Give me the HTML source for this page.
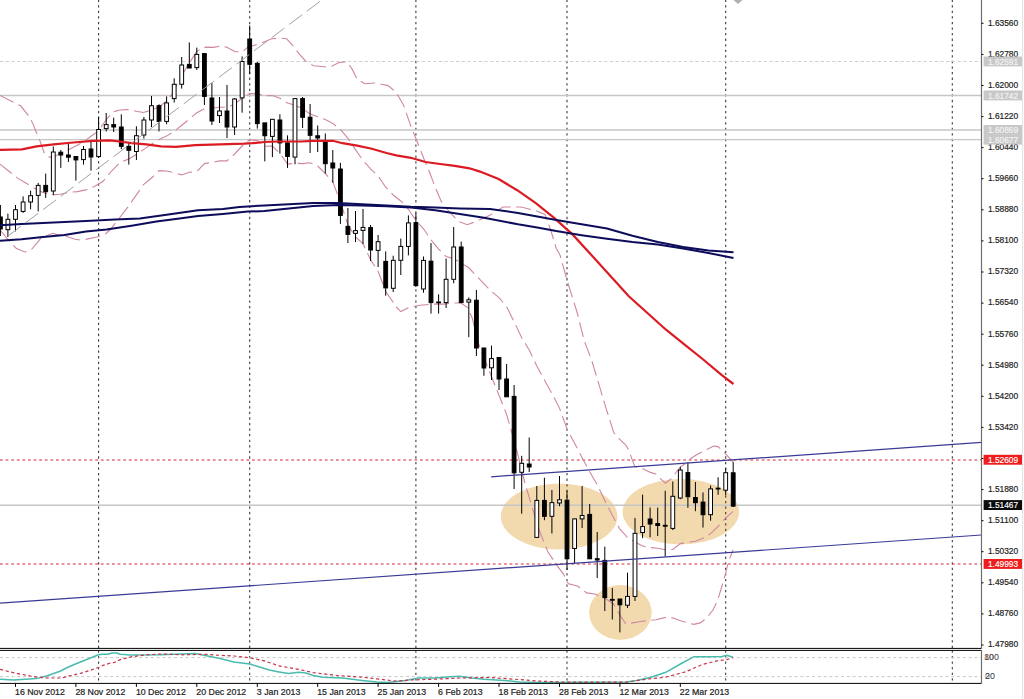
<!DOCTYPE html>
<html><head><meta charset="utf-8"><title>GBPUSD Daily</title>
<style>html,body{margin:0;padding:0;background:#fff;overflow:hidden}svg{display:block}</style>
</head><body>
<svg width="1024" height="699" viewBox="0 0 1024 699"><defs><clipPath id="cm"><rect x="0" y="0" width="981.5" height="648.4"/></clipPath>
<clipPath id="ci"><rect x="0" y="650.4" width="981.5" height="33"/></clipPath></defs>
<g clip-path="url(#cm)">
<ellipse cx="559.1" cy="516.4" rx="58.3" ry="33" fill="#f3daae"/>
<ellipse cx="680.9" cy="511.8" rx="58.3" ry="32.8" fill="#f3daae"/>
<ellipse cx="620.4" cy="612.5" rx="31.3" ry="27.4" fill="#f3daae"/>
<line x1="98.6" y1="0" x2="98.6" y2="648.4" stroke="#383838" stroke-width="1.1" stroke-dasharray="2.3 3.27" stroke-dashoffset="0.4"/>
<line x1="249.7" y1="0" x2="249.7" y2="648.4" stroke="#383838" stroke-width="1.1" stroke-dasharray="2.3 3.27" stroke-dashoffset="0.4"/>
<line x1="415.9" y1="0" x2="415.9" y2="648.4" stroke="#383838" stroke-width="1.1" stroke-dasharray="2.3 3.27" stroke-dashoffset="0.4"/>
<line x1="567" y1="0" x2="567" y2="648.4" stroke="#383838" stroke-width="1.1" stroke-dasharray="2.3 3.27" stroke-dashoffset="0.4"/>
<line x1="725.7" y1="0" x2="725.7" y2="648.4" stroke="#383838" stroke-width="1.1" stroke-dasharray="2.3 3.27" stroke-dashoffset="0.4"/>
<line x1="952.3" y1="0" x2="952.3" y2="648.4" stroke="#383838" stroke-width="1.1" stroke-dasharray="2.3 3.27" stroke-dashoffset="0.4"/>
<line x1="0" y1="61.5" x2="981.5" y2="61.5" stroke="#cfcfcf" stroke-width="1.2" stroke-dasharray="3.2 2.5"/>
<line x1="0" y1="95.5" x2="981.5" y2="95.5" stroke="#c6c6c6" stroke-width="1.4"/>
<line x1="0" y1="130" x2="981.5" y2="130" stroke="#c6c6c6" stroke-width="1.4"/>
<line x1="0" y1="139.6" x2="981.5" y2="139.6" stroke="#c6c6c6" stroke-width="1.4"/>
<line x1="0" y1="505.2" x2="981.5" y2="505.2" stroke="#c6c6c6" stroke-width="1.4"/>
<line x1="0" y1="460" x2="981.5" y2="460" stroke="#d8283c" stroke-width="1.1" stroke-dasharray="2.8 2.8"/>
<line x1="0" y1="564" x2="981.5" y2="564" stroke="#d8283c" stroke-width="1.1" stroke-dasharray="2.8 2.8"/>
<polyline points="0,95.5 13.7,102.3 20.6,105.8 27.5,114.3 32.6,122.9 36,131.5 40.3,141.8 44.6,153.8 49.8,157.3 56.7,155.5 63.5,152.1 70.4,148.7 77.3,145.2 85.8,140.1 92.7,135 97.9,131.5 106.4,119.5 113.3,111.8 120,110 128,109.6 136,111.2 143.5,112.5 151.5,110 159,107 166.6,101 171.8,94.6 179.5,79.2 190,61.9 196.4,52.2 200.7,48.5 206.1,47.1 213.6,47.4 220.1,46 226.5,47.1 235.1,51.7 242.6,51.7 248,46.9 254.4,45.2 258.7,44.2 265.2,41.5 271.6,38.8 280.2,38 286.7,38.8 292,44.7 299.6,54.4 305.7,61.2 313.5,65.8 323.7,66.8 331.5,66.3 339.2,62.5 346.9,61.7 352,68.9 357.2,79.2 364.9,83.8 375.2,83 388,85.6 395.8,92 403.5,104.9 410.3,124.6 417.2,141.8 424,159 428.7,170 435.2,187.2 441.6,202.2 450.2,212.9 458.8,221.5 467.3,224.7 475.9,221.5 489.3,215.6 503,207 521,207 535.8,210.7 545,214.4 551,231 556.2,248.2 560,255 567.4,281.4 576.7,311 584.4,341.2 591.6,360 596.3,375.7 601,391.4 605.7,407.2 609.7,419.7 613.6,432.3 619.1,438.6 626.2,445.7 629.3,451.2 632.5,460.6 634.8,466.5 639.7,468.1 644,469.2 650.4,472.4 655.8,474 660.1,478.3 665.4,483.2 671.9,478.3 677.3,470.8 681.6,466 685.9,463.3 690.2,459 696.6,454.7 707.3,449.3 713.8,446.1 718.1,446.6 723.4,451.5 728.8,457.4 733.2,462" fill="none" stroke="#cf86a3" stroke-width="1.1" stroke-dasharray="15 5.5"/>
<polyline points="0,164.1 8.6,171 17.2,177.9 25.8,183 34.3,188.2 42.9,192.4 51.5,195 60.1,194.2 68.7,192.4 77.3,191.6 85.8,189.9 94.4,186.4 103,181.3 111.6,171 120,162.4 128.8,158.9 136.4,154.5 143.9,149.4 151.5,144.1 159,139.4 166.6,136.1 174.2,131.4 181.7,125.3 189.3,119.1 196.8,112.8 204.4,108.8 211.9,108.2 219.5,107.3 227,107.3 234.6,104.1 242.1,98.2 249.7,93.5 257.3,93.7 264.8,95.7 272.4,95.6 279.9,98.2 287.5,103 295,105.3 302.6,108.6 310.1,114 317.7,116.7 325.3,119.6 332.8,123.4 340.4,129.3 347.9,138.3 355.5,149.6 363,160.4 370.6,168.9 378.1,175.9 385.7,187.2 393.2,195 400.8,201 408.4,209.3 415.9,220.5 423.5,228.8 431,239.8 438.6,249.1 446.1,256.5 453.7,258.6 461.2,263.2 468.8,267.8 476.4,275.8 483.9,283.7 491.5,291.5 499,297.6 506.6,306.7 514.1,321.7 521.7,337.8 529.2,349.9 536.8,365.9 544.4,380.1 551.9,393.4 559.5,408.1 567,428.9 574.6,443.3 582.1,457.7 589.7,471.8 597.2,484.6 604.8,500.5 612.3,515.3 619.9,529.1 627.5,537.4 635,542 642.6,546 650.1,547.6 657.7,548.2 665.2,549.8 672.8,549.5 680.3,543.6 687.9,542.1 695.4,541.3 703,538.3 710.6,533.6 718.1,526.4 725.7,517.9 733.2,511.3" fill="none" stroke="#cf86a3" stroke-width="1.1" stroke-dasharray="15 5.5"/>
<polyline points="0,230 6.4,237.6 16.1,248.3 24.7,252 31.1,249.9 37.6,242.4 40.8,238.1 52.6,233.3 58,234.9 66.6,236.5 75.2,239.2 81.6,240.2 96.7,237 104.2,234.9 110,230 116.6,221.6 128.2,206.6 139.8,190 143.5,184.7 151.5,178 159,170.6 166.6,171 174.2,172.6 181.7,174.9 189.3,172.3 196.8,171.7 204.4,163.6 211.9,162.4 219.5,160.9 227,160.9 234.6,154 242.1,146 249.7,139.7 257.3,140.5 264.8,146.3 272.4,146 279.9,153.4 287.5,164.1 295,163.3 302.6,163.6 310.1,162.8 317.7,166 325.3,173.6 332.8,181.8 340.4,202.2 347.9,224.7 355.5,237 363,243.7 370.6,259.8 378.1,271.3 385.7,291.5 393.2,302.2 394.4,305.2 400.8,311.6 409.4,307.3 420.1,305.2 433,304.1 443.7,304.1 454.5,303 460.9,303 467.3,307.3 472.3,318.3 479.2,345.8 488.3,368.6 497.5,391.5 506.6,414.4 515.8,446.5 524.9,483 531.8,506 538.6,528.8 547.8,551.7 557,565.4 563.8,574.6 568.4,583.8 577.5,586 586.7,592.9 594.7,594 604.2,597.7 613.6,604 619.9,615 626.2,624.4 632.5,622.9 642,621.3 649.8,620.5 656.1,619.7 665.6,617.4 673.4,618.1 679.7,620.5 687.6,622.9 693.9,624.4 700.2,622.9 706.5,618.1 712.8,610.3 717.5,600.8 722.2,585.1 725.4,574.1 728.5,561.5 733.2,549.7" fill="none" stroke="#cf86a3" stroke-width="1.1" stroke-dasharray="15 5.5"/>
<g stroke="#000" stroke-width="1"><line x1="0.4" y1="205" x2="0.4" y2="236"/><line x1="7.9" y1="213.6" x2="7.9" y2="237"/><line x1="15.5" y1="205" x2="15.5" y2="231.4"/><line x1="23.1" y1="196.4" x2="23.1" y2="212.9"/><line x1="30.6" y1="190.7" x2="30.6" y2="209.3"/><line x1="38.2" y1="182.9" x2="38.2" y2="211.4"/><line x1="45.7" y1="173.6" x2="45.7" y2="197.9"/><line x1="53.3" y1="146.5" x2="53.3" y2="195"/><line x1="60.8" y1="150" x2="60.8" y2="167.9"/><line x1="68.4" y1="144" x2="68.4" y2="162"/><line x1="75.9" y1="156.5" x2="75.9" y2="180.6"/><line x1="83.5" y1="146" x2="83.5" y2="164.6"/><line x1="91" y1="142" x2="91" y2="170.6"/><line x1="98.6" y1="117" x2="98.6" y2="158"/><line x1="106.2" y1="113" x2="106.2" y2="131.5"/><line x1="113.7" y1="117.7" x2="113.7" y2="132"/><line x1="121.3" y1="114.3" x2="121.3" y2="149.2"/><line x1="128.8" y1="142.3" x2="128.8" y2="164.6"/><line x1="136.4" y1="126.3" x2="136.4" y2="160"/><line x1="143.9" y1="117" x2="143.9" y2="138.6"/><line x1="151.5" y1="96" x2="151.5" y2="127"/><line x1="159" y1="104.3" x2="159" y2="131.4"/><line x1="166.6" y1="96.4" x2="166.6" y2="124.3"/><line x1="174.2" y1="78.3" x2="174.2" y2="102.6"/><line x1="181.7" y1="57" x2="181.7" y2="88.6"/><line x1="189.3" y1="42.4" x2="189.3" y2="68"/><line x1="196.8" y1="47.6" x2="196.8" y2="70"/><line x1="204.4" y1="53" x2="204.4" y2="105"/><line x1="211.9" y1="83" x2="211.9" y2="125"/><line x1="219.5" y1="97" x2="219.5" y2="123"/><line x1="227" y1="85" x2="227" y2="138"/><line x1="234.6" y1="98" x2="234.6" y2="135"/><line x1="242.1" y1="56.4" x2="242.1" y2="112.7"/><line x1="249.7" y1="25.5" x2="249.7" y2="74"/><line x1="257.3" y1="62" x2="257.3" y2="128.6"/><line x1="264.8" y1="122.9" x2="264.8" y2="161.4"/><line x1="272.4" y1="119.3" x2="272.4" y2="157.1"/><line x1="279.9" y1="114.3" x2="279.9" y2="153.6"/><line x1="287.5" y1="135.4" x2="287.5" y2="167.9"/><line x1="295" y1="98.6" x2="295" y2="164.3"/><line x1="302.6" y1="97" x2="302.6" y2="128"/><line x1="310.1" y1="104" x2="310.1" y2="153"/><line x1="317.7" y1="125.5" x2="317.7" y2="152"/><line x1="325.3" y1="133.5" x2="325.3" y2="173.5"/><line x1="332.8" y1="150" x2="332.8" y2="182.7"/><line x1="340.4" y1="162.8" x2="340.4" y2="223.9"/><line x1="347.9" y1="208" x2="347.9" y2="243"/><line x1="355.5" y1="211" x2="355.5" y2="242"/><line x1="363" y1="209" x2="363" y2="244"/><line x1="370.6" y1="225" x2="370.6" y2="261"/><line x1="378.1" y1="235" x2="378.1" y2="267"/><line x1="385.7" y1="251.4" x2="385.7" y2="295.7"/><line x1="393.2" y1="255.7" x2="393.2" y2="292"/><line x1="400.8" y1="238.6" x2="400.8" y2="275"/><line x1="408.4" y1="215.4" x2="408.4" y2="255.4"/><line x1="415.9" y1="212.9" x2="415.9" y2="287"/><line x1="423.5" y1="256.5" x2="423.5" y2="292.7"/><line x1="431" y1="243.1" x2="431" y2="313.6"/><line x1="438.6" y1="294.3" x2="438.6" y2="313.6"/><line x1="446.1" y1="258.6" x2="446.1" y2="308"/><line x1="453.7" y1="227" x2="453.7" y2="283.3"/><line x1="461.2" y1="241.6" x2="461.2" y2="303"/><line x1="468.8" y1="297.4" x2="468.8" y2="337.2"/><line x1="476.4" y1="290" x2="476.4" y2="356"/><line x1="483.9" y1="348" x2="483.9" y2="375.8"/><line x1="491.5" y1="345.6" x2="491.5" y2="380"/><line x1="499" y1="357.5" x2="499" y2="390"/><line x1="506.6" y1="364" x2="506.6" y2="397"/><line x1="514.1" y1="385" x2="514.1" y2="489"/><line x1="521.7" y1="455.8" x2="521.7" y2="513.7"/><line x1="529.2" y1="437.5" x2="529.2" y2="472"/><line x1="536.8" y1="486" x2="536.8" y2="537.5"/><line x1="544.4" y1="477.7" x2="544.4" y2="520.2"/><line x1="551.9" y1="490" x2="551.9" y2="533.5"/><line x1="559.5" y1="476" x2="559.5" y2="506.2"/><line x1="567" y1="490.7" x2="567" y2="570"/><line x1="574.6" y1="518.6" x2="574.6" y2="563.6"/><line x1="582.1" y1="486" x2="582.1" y2="528"/><line x1="589.7" y1="504" x2="589.7" y2="558.8"/><line x1="597.2" y1="532" x2="597.2" y2="578"/><line x1="604.8" y1="546.6" x2="604.8" y2="611"/><line x1="612.3" y1="588" x2="612.3" y2="619.5"/><line x1="619.9" y1="599" x2="619.9" y2="632.4"/><line x1="627.5" y1="572.7" x2="627.5" y2="608"/><line x1="635" y1="517.9" x2="635" y2="601"/><line x1="642.6" y1="494.6" x2="642.6" y2="538.2"/><line x1="650.1" y1="507.5" x2="650.1" y2="537.2"/><line x1="657.7" y1="507.6" x2="657.7" y2="536"/><line x1="665.2" y1="490.8" x2="665.2" y2="556.6"/><line x1="672.8" y1="481.5" x2="672.8" y2="530.1"/><line x1="680.3" y1="466.8" x2="680.3" y2="499.2"/><line x1="687.9" y1="462.4" x2="687.9" y2="507.8"/><line x1="695.4" y1="482" x2="695.4" y2="511.2"/><line x1="703" y1="492.4" x2="703" y2="527.6"/><line x1="710.6" y1="485.5" x2="710.6" y2="520.7"/><line x1="718.1" y1="477.3" x2="718.1" y2="494.8"/><line x1="725.7" y1="468.2" x2="725.7" y2="495"/><line x1="733.2" y1="462.1" x2="733.2" y2="507"/></g>
<g stroke="#000" stroke-width="1"><rect x="-1.5" y="217" width="3.8" height="12" fill="#000"/><rect x="6" y="219.3" width="3.8" height="10.4" fill="#fff"/><rect x="13.6" y="209.7" width="3.8" height="9.6" fill="#fff"/><rect x="21.2" y="202" width="3.8" height="9.4" fill="#fff"/><rect x="28.7" y="195.7" width="3.8" height="6.3" fill="#fff"/><rect x="36.3" y="185.4" width="3.8" height="10" fill="#fff"/><rect x="43.8" y="185.4" width="3.8" height="6.3" fill="#000"/><rect x="51.4" y="152" width="3.8" height="39" fill="#fff"/><rect x="58.9" y="152.2" width="3.8" height="2.8" fill="#000"/><rect x="66.5" y="155" width="3.8" height="2.2" fill="#000"/><rect x="74" y="156.5" width="3.8" height="3.4" fill="#000"/><rect x="81.6" y="149.5" width="3.8" height="10.1" fill="#fff"/><rect x="89.1" y="149" width="3.8" height="8" fill="#000"/><rect x="96.7" y="129.5" width="3.8" height="27.1" fill="#fff"/><rect x="104.3" y="124.6" width="3.8" height="4" fill="#fff"/><rect x="111.8" y="124.6" width="3.8" height="2.4" fill="#000"/><rect x="119.4" y="127" width="3.8" height="19.3" fill="#000"/><rect x="126.9" y="146.3" width="3.8" height="4" fill="#000"/><rect x="134.5" y="135.7" width="3.8" height="15.8" fill="#fff"/><rect x="142" y="120" width="3.8" height="15" fill="#fff"/><rect x="149.6" y="105.7" width="3.8" height="14.3" fill="#fff"/><rect x="157.1" y="105.7" width="3.8" height="15.7" fill="#000"/><rect x="164.7" y="102.9" width="3.8" height="18.5" fill="#fff"/><rect x="172.3" y="84.3" width="3.8" height="14.3" fill="#fff"/><rect x="179.8" y="65" width="3.8" height="19.3" fill="#fff"/><rect x="187.4" y="64.4" width="3.8" height="3.6" fill="#000"/><rect x="194.9" y="54.4" width="3.8" height="13.2" fill="#fff"/><rect x="202.5" y="53.6" width="3.8" height="42.8" fill="#000"/><rect x="210" y="98" width="3.8" height="23" fill="#000"/><rect x="217.6" y="111" width="3.8" height="4.6" fill="#fff"/><rect x="225.1" y="111" width="3.8" height="16" fill="#000"/><rect x="232.7" y="99" width="3.8" height="28" fill="#fff"/><rect x="240.2" y="61.5" width="3.8" height="36.4" fill="#fff"/><rect x="247.8" y="39" width="3.8" height="25.3" fill="#000"/><rect x="255.4" y="63.3" width="3.8" height="60.3" fill="#000"/><rect x="262.9" y="122.9" width="3.8" height="12.8" fill="#000"/><rect x="270.5" y="119.3" width="3.8" height="17.1" fill="#fff"/><rect x="278" y="120" width="3.8" height="22.9" fill="#000"/><rect x="285.6" y="142.9" width="3.8" height="13.5" fill="#000"/><rect x="293.1" y="98.6" width="3.8" height="58.5" fill="#fff"/><rect x="300.7" y="98.6" width="3.8" height="18.7" fill="#000"/><rect x="308.2" y="117.2" width="3.8" height="18.1" fill="#000"/><rect x="315.8" y="135.8" width="3.8" height="2.2" fill="#000"/><rect x="323.4" y="142" width="3.8" height="21.7" fill="#000"/><rect x="330.9" y="163" width="3.8" height="5" fill="#000"/><rect x="338.5" y="169" width="3.8" height="46.4" fill="#000"/><rect x="346" y="226.4" width="3.8" height="8" fill="#000"/><rect x="353.6" y="230.6" width="3.8" height="2.8" fill="#fff"/><rect x="361.1" y="227.4" width="3.8" height="3" fill="#fff"/><rect x="368.7" y="227.6" width="3.8" height="22.4" fill="#000"/><rect x="376.2" y="241.7" width="3.8" height="8.7" fill="#fff"/><rect x="383.8" y="261.4" width="3.8" height="26.5" fill="#000"/><rect x="391.4" y="260.3" width="3.8" height="28" fill="#fff"/><rect x="398.9" y="246.4" width="3.8" height="13.9" fill="#fff"/><rect x="406.5" y="222.9" width="3.8" height="23.5" fill="#fff"/><rect x="414" y="222.6" width="3.8" height="63" fill="#000"/><rect x="421.6" y="260.4" width="3.8" height="28.6" fill="#fff"/><rect x="429.1" y="261.2" width="3.8" height="41.4" fill="#000"/><rect x="436.7" y="302" width="3.8" height="0.8" fill="#000"/><rect x="444.2" y="279.3" width="3.8" height="23.3" fill="#fff"/><rect x="451.8" y="247" width="3.8" height="32.3" fill="#fff"/><rect x="459.3" y="247" width="3.8" height="55.6" fill="#000"/><rect x="466.9" y="299.8" width="3.8" height="2.3" fill="#fff"/><rect x="474.5" y="300.2" width="3.8" height="47.8" fill="#000"/><rect x="482" y="348" width="3.8" height="20" fill="#000"/><rect x="489.6" y="358.6" width="3.8" height="9.2" fill="#fff"/><rect x="497.1" y="357.5" width="3.8" height="21.5" fill="#000"/><rect x="504.7" y="379" width="3.8" height="17.8" fill="#000"/><rect x="512.2" y="396.4" width="3.8" height="76.4" fill="#000"/><rect x="519.8" y="463.3" width="3.8" height="9" fill="#fff"/><rect x="527.3" y="464" width="3.8" height="3" fill="#000"/><rect x="534.9" y="500.4" width="3.8" height="37" fill="#fff"/><rect x="542.5" y="500.4" width="3.8" height="15.9" fill="#000"/><rect x="550" y="502.6" width="3.8" height="13.7" fill="#fff"/><rect x="557.6" y="499.8" width="3.8" height="3.2" fill="#fff"/><rect x="565.1" y="500.2" width="3.8" height="58.6" fill="#000"/><rect x="572.7" y="518.9" width="3.8" height="29.6" fill="#fff"/><rect x="580.2" y="515.5" width="3.8" height="3.4" fill="#fff"/><rect x="587.8" y="514.4" width="3.8" height="44.4" fill="#000"/><rect x="595.3" y="558.7" width="3.8" height="1.3" fill="#000"/><rect x="602.9" y="560.4" width="3.8" height="37.2" fill="#000"/><rect x="610.4" y="599.4" width="3.8" height="0.8" fill="#000"/><rect x="618" y="599" width="3.8" height="5.8" fill="#000"/><rect x="625.6" y="596.4" width="3.8" height="8.8" fill="#fff"/><rect x="633.1" y="533.3" width="3.8" height="63.1" fill="#fff"/><rect x="640.7" y="526.6" width="3.8" height="5.9" fill="#fff"/><rect x="648.2" y="519" width="3.8" height="5" fill="#000"/><rect x="655.8" y="523.6" width="3.8" height="1.9" fill="#000"/><rect x="663.3" y="525.3" width="3.8" height="0.9" fill="#000"/><rect x="670.9" y="496.3" width="3.8" height="32.1" fill="#fff"/><rect x="678.4" y="470" width="3.8" height="28" fill="#fff"/><rect x="686" y="472.6" width="3.8" height="24.1" fill="#000"/><rect x="693.5" y="497.5" width="3.8" height="5.2" fill="#000"/><rect x="701.1" y="502.1" width="3.8" height="12.6" fill="#000"/><rect x="708.7" y="488.9" width="3.8" height="25.8" fill="#fff"/><rect x="716.2" y="488.2" width="3.8" height="0.8" fill="#000"/><rect x="723.8" y="472.7" width="3.8" height="17.5" fill="#fff"/><rect x="731.3" y="472.8" width="3.8" height="33.3" fill="#000"/></g>
<polyline points="0,149.8 22,149.3 36.6,146.4 53.7,144.4 73.2,142.5 92.8,140.8 110,140.3 119.6,141.5 131.8,143.2 146.5,144.4 161,146.4 175.8,146.9 195.3,145.1 219.7,144.4 244,143.7 252.2,143.2 264.4,142 279,141.5 301,141.5 313.2,140.8 332.8,140.8 342.5,143.2 357.2,145.6 371.8,148.8 386.5,153 396.2,155.4 410.9,157.8 425.5,162 440.2,164 454.8,165.9 469.5,168.3 480,171.6 498.6,179 517.2,190.2 535.8,203.2 554.4,218.1 573,234.9 591.6,255.3 610.2,275.8 628.8,296.2 647.4,313 666,329.7 684.6,344.6 703.2,359.5 721.8,375.1 733.5,384" fill="none" stroke="#dc1a22" stroke-width="2.2"/>
<polyline points="0,225.2 21.5,224.1 43,223.1 64.4,222 86,220.9 110,219.8 114.9,219.6 139.8,218.6 164.8,214.9 198,210.3 222.9,209.1 239.5,207.1 264.4,205.4 288.8,204.2 313.2,203 337.7,203 362,204.2 386.5,205.4 410.9,206.7 435.3,207.4 459.7,208.4 490,209.1 518,212.9 540,217.1 556.2,220 581.6,224.3 607,228.6 632.4,235.7 657.8,242 683.1,247.1 708.5,250.4 733.5,252.2" fill="none" stroke="#0c0c5a" stroke-width="2"/>
<polyline points="0,240.8 21.5,239.2 43,237 64.4,234.9 86,231.6 106.6,229.5 131.5,225.7 156.4,221.6 181.4,218.2 198,216.1 222.9,214.1 247.8,211.6 264.4,211 288.8,208.4 313.2,206 337.7,205 362,205.4 386.5,206.2 410.9,207.4 435.3,210.3 459.7,214 484,217.7 518,224.3 540,228 556.2,231.1 581.6,235.2 607,238.8 632.4,242 657.8,244.6 683.1,248.4 708.5,253 733.5,258" fill="none" stroke="#0c0c5a" stroke-width="2"/>
<line x1="8" y1="236" x2="321.8" y2="0" stroke="#a0a0a0" stroke-width="1" stroke-dasharray="16 6"/>
<line x1="0" y1="603.1" x2="981.5" y2="535" stroke="#3a3a96" stroke-width="1.2"/>
<line x1="491.1" y1="476.8" x2="981.5" y2="442.4" stroke="#3a3a96" stroke-width="1.2"/>
</g>
<g clip-path="url(#ci)">
<line x1="98.6" y1="650.4" x2="98.6" y2="683.4" stroke="#2a2a2a" stroke-width="1" stroke-dasharray="2.3 3.27"/>
<line x1="249.7" y1="650.4" x2="249.7" y2="683.4" stroke="#2a2a2a" stroke-width="1" stroke-dasharray="2.3 3.27"/>
<line x1="415.9" y1="650.4" x2="415.9" y2="683.4" stroke="#2a2a2a" stroke-width="1" stroke-dasharray="2.3 3.27"/>
<line x1="567" y1="650.4" x2="567" y2="683.4" stroke="#2a2a2a" stroke-width="1" stroke-dasharray="2.3 3.27"/>
<line x1="725.7" y1="650.4" x2="725.7" y2="683.4" stroke="#2a2a2a" stroke-width="1" stroke-dasharray="2.3 3.27"/>
<line x1="952.3" y1="650.4" x2="952.3" y2="683.4" stroke="#2a2a2a" stroke-width="1" stroke-dasharray="2.3 3.27"/>
<line x1="0" y1="657.6" x2="981.5" y2="657.6" stroke="#c8c8c8" stroke-width="1" stroke-dasharray="3 2.8"/>
<line x1="0" y1="676.6" x2="981.5" y2="676.6" stroke="#c8c8c8" stroke-width="1" stroke-dasharray="3 2.8"/>
<polyline points="0,679.2 14,680 36.6,678.6 48,675.5 60,671.2 66.8,667.8 73.7,664.7 80.5,662 87.3,659.3 94.2,656.5 98.3,654.8 102.4,654.2 107.8,654.2 112,653.1 116.7,653.1 120.2,654.2 124.9,654.5 129,655 160,654.8 195,653.5 220,658.4 234,662 249.8,664 259.5,667 269.3,670 279,671.9 288.8,673.6 298.6,672.3 306,673 313,675.5 323,677.2 342.5,678 362,680.4 376.7,682.1 386.5,682.4 406,680.4 418,678 435,678 450,676.7 459.7,676.2 472,678 484,679.2 504.6,680.4 519.3,682.1 538.8,682.4 626.7,682.1 636.5,680.4 651,677.2 665.8,672.3 680.4,664 693.9,656.7 709.7,656.7 722,656.5 726.8,655.3 733,657.2" fill="none" stroke="#48bcae" stroke-width="1.5"/>
<polyline points="0,669.4 14.6,673 36.6,677.2 48.8,678 62,678 68.9,676 75,674.7 80.5,673.3 86,671.6 91.4,669.9 98.3,667.5 103,665.4 109.2,663.4 114.7,662.4 120.2,659.6 125.6,658.3 132,656.7 146.5,654.8 161,654 183,654.8 205,654.3 220,655.3 234,656 249.8,657.7 264.4,660.9 279,665.8 298.6,669.4 313,672.6 337.7,675.5 362,677.2 386.5,680 396,681.1 411,680 435,679.2 459.7,678 490,677.5 514.4,679.2 538.8,681.1 563.2,682.1 626.7,682.1 646.3,679.2 665.8,677.2 685.3,671.9 702.4,664.5 717,660.9 726.8,659.6 733,657.7" fill="none" stroke="#c8344a" stroke-width="1.2" stroke-dasharray="3.2 2.6"/>
</g>
<g stroke="#000" stroke-width="1" fill="none">
<line x1="0" y1="648.4" x2="981.5" y2="648.4"/>
<line x1="0" y1="650.4" x2="981.5" y2="650.4"/>
<line x1="0" y1="683.4" x2="981.5" y2="683.4"/>
</g>
<line x1="981.5" y1="0" x2="981.5" y2="648.4" stroke="#6e6e6e" stroke-width="1.2"/>
<line x1="981.5" y1="650.4" x2="981.5" y2="683.4" stroke="#6e6e6e" stroke-width="1.2"/>
<line x1="1022.6" y1="0" x2="1022.6" y2="699" stroke="#e4e4e4" stroke-width="1"/>
<g stroke="#000" stroke-width="1"><line x1="981.5" y1="23.3" x2="983.5" y2="23.3"/><line x1="981.5" y1="54.4" x2="983.5" y2="54.4"/><line x1="981.5" y1="85.5" x2="983.5" y2="85.5"/><line x1="981.5" y1="116.6" x2="983.5" y2="116.6"/><line x1="981.5" y1="147.6" x2="983.5" y2="147.6"/><line x1="981.5" y1="178.7" x2="983.5" y2="178.7"/><line x1="981.5" y1="209.8" x2="983.5" y2="209.8"/><line x1="981.5" y1="240.9" x2="983.5" y2="240.9"/><line x1="981.5" y1="272" x2="983.5" y2="272"/><line x1="981.5" y1="303.1" x2="983.5" y2="303.1"/><line x1="981.5" y1="334.2" x2="983.5" y2="334.2"/><line x1="981.5" y1="365.2" x2="983.5" y2="365.2"/><line x1="981.5" y1="396.3" x2="983.5" y2="396.3"/><line x1="981.5" y1="427.4" x2="983.5" y2="427.4"/><line x1="981.5" y1="458.5" x2="983.5" y2="458.5"/><line x1="981.5" y1="489.6" x2="983.5" y2="489.6"/><line x1="981.5" y1="520.7" x2="983.5" y2="520.7"/><line x1="981.5" y1="551.7" x2="983.5" y2="551.7"/><line x1="981.5" y1="582.8" x2="983.5" y2="582.8"/><line x1="981.5" y1="613.9" x2="983.5" y2="613.9"/><line x1="981.5" y1="645" x2="983.5" y2="645"/></g>
<g font-family="Liberation Sans, sans-serif" font-size="9.3" fill="#222" stroke="#222" stroke-width="0.2"><text x="987.9" y="25.6" textLength="30.3" lengthAdjust="spacingAndGlyphs">1.63560</text><text x="987.9" y="56.7" textLength="30.3" lengthAdjust="spacingAndGlyphs">1.62780</text><text x="987.9" y="87.8" textLength="30.3" lengthAdjust="spacingAndGlyphs">1.62000</text><text x="987.9" y="118.9" textLength="30.3" lengthAdjust="spacingAndGlyphs">1.61220</text><text x="987.9" y="149.9" textLength="30.3" lengthAdjust="spacingAndGlyphs">1.60440</text><text x="987.9" y="181" textLength="30.3" lengthAdjust="spacingAndGlyphs">1.59660</text><text x="987.9" y="212.1" textLength="30.3" lengthAdjust="spacingAndGlyphs">1.58880</text><text x="987.9" y="243.2" textLength="30.3" lengthAdjust="spacingAndGlyphs">1.58100</text><text x="987.9" y="274.3" textLength="30.3" lengthAdjust="spacingAndGlyphs">1.57320</text><text x="987.9" y="305.4" textLength="30.3" lengthAdjust="spacingAndGlyphs">1.56540</text><text x="987.9" y="336.5" textLength="30.3" lengthAdjust="spacingAndGlyphs">1.55760</text><text x="987.9" y="367.5" textLength="30.3" lengthAdjust="spacingAndGlyphs">1.54980</text><text x="987.9" y="398.6" textLength="30.3" lengthAdjust="spacingAndGlyphs">1.54200</text><text x="987.9" y="429.7" textLength="30.3" lengthAdjust="spacingAndGlyphs">1.53420</text><text x="987.9" y="460.8" textLength="30.3" lengthAdjust="spacingAndGlyphs">1.52640</text><text x="987.9" y="491.9" textLength="30.3" lengthAdjust="spacingAndGlyphs">1.51880</text><text x="987.9" y="523" textLength="30.3" lengthAdjust="spacingAndGlyphs">1.51100</text><text x="987.9" y="554" textLength="30.3" lengthAdjust="spacingAndGlyphs">1.50320</text><text x="987.9" y="585.1" textLength="30.3" lengthAdjust="spacingAndGlyphs">1.49540</text><text x="987.9" y="616.2" textLength="30.3" lengthAdjust="spacingAndGlyphs">1.48760</text><text x="987.9" y="647.3" textLength="30.3" lengthAdjust="spacingAndGlyphs">1.47980</text></g>
<rect x="983.6" y="56.5" width="38.4" height="9.9" fill="#c8c8c8"/>
<text x="987.9" y="64.8" font-family="Liberation Sans, sans-serif" font-size="9.3" fill="#f4f4f4" stroke="#f4f4f4" stroke-width="0.15" textLength="30.3" lengthAdjust="spacingAndGlyphs">1.62591</text>
<rect x="983.6" y="90.5" width="38.4" height="9.9" fill="#c8c8c8"/>
<text x="987.9" y="98.8" font-family="Liberation Sans, sans-serif" font-size="9.3" fill="#f4f4f4" stroke="#f4f4f4" stroke-width="0.15" textLength="30.3" lengthAdjust="spacingAndGlyphs">1.61742</text>
<rect x="983.6" y="125" width="38.4" height="9.9" fill="#c8c8c8"/>
<text x="987.9" y="133.3" font-family="Liberation Sans, sans-serif" font-size="9.3" fill="#f4f4f4" stroke="#f4f4f4" stroke-width="0.15" textLength="30.3" lengthAdjust="spacingAndGlyphs">1.60869</text>
<rect x="983.6" y="134.7" width="38.4" height="9.9" fill="#c8c8c8"/>
<text x="987.9" y="142.9" font-family="Liberation Sans, sans-serif" font-size="9.3" fill="#f4f4f4" stroke="#f4f4f4" stroke-width="0.15" textLength="30.3" lengthAdjust="spacingAndGlyphs">1.60677</text>
<rect x="983.6" y="454.8" width="38.4" height="9.9" fill="#ee1c1c"/>
<text x="987.9" y="463" font-family="Liberation Sans, sans-serif" font-size="9.3" fill="#ffffff" stroke="#ffffff" stroke-width="0.15" textLength="30.3" lengthAdjust="spacingAndGlyphs">1.52609</text>
<rect x="983.6" y="500.1" width="38.4" height="9.9" fill="#0a0a0a"/>
<text x="987.9" y="508.3" font-family="Liberation Sans, sans-serif" font-size="9.3" fill="#ffffff" stroke="#ffffff" stroke-width="0.15" textLength="30.3" lengthAdjust="spacingAndGlyphs">1.51467</text>
<rect x="983.6" y="559" width="38.4" height="9.9" fill="#ee1c1c"/>
<text x="987.9" y="567.3" font-family="Liberation Sans, sans-serif" font-size="9.3" fill="#ffffff" stroke="#ffffff" stroke-width="0.15" textLength="30.3" lengthAdjust="spacingAndGlyphs">1.49993</text>
<g font-family="Liberation Sans, sans-serif" font-size="8.8">
<text x="984.2" y="660.2" fill="#2c4650">100</text><text x="984.2" y="660.2" fill="#7a4a34" fill-opacity="0.8">80</text>
<text x="985" y="679.3" fill="#2c3a48">20</text><text x="985" y="679.3" fill="#2c3a48" fill-opacity="0.6">0</text>
</g>
<g stroke="#000" stroke-width="1"><line x1="15.5" y1="683.4" x2="15.5" y2="686.9"/><line x1="75.9" y1="683.4" x2="75.9" y2="686.9"/><line x1="136.4" y1="683.4" x2="136.4" y2="686.9"/><line x1="196.8" y1="683.4" x2="196.8" y2="686.9"/><line x1="257.3" y1="683.4" x2="257.3" y2="686.9"/><line x1="317.7" y1="683.4" x2="317.7" y2="686.9"/><line x1="378.1" y1="683.4" x2="378.1" y2="686.9"/><line x1="438.6" y1="683.4" x2="438.6" y2="686.9"/><line x1="499" y1="683.4" x2="499" y2="686.9"/><line x1="559.5" y1="683.4" x2="559.5" y2="686.9"/><line x1="619.9" y1="683.4" x2="619.9" y2="686.9"/><line x1="680.3" y1="683.4" x2="680.3" y2="686.9"/></g>
<g font-family="Liberation Sans, sans-serif" font-size="8.8" fill="#222" stroke="#222" stroke-width="0.2"><text x="15" y="694.8">16 Nov 2012</text><text x="75.4" y="694.8">28 Nov 2012</text><text x="135.9" y="694.8">10 Dec 2012</text><text x="196.3" y="694.8">20 Dec 2012</text><text x="256.8" y="694.8">3 Jan 2013</text><text x="317.2" y="694.8">15 Jan 2013</text><text x="377.6" y="694.8">25 Jan 2013</text><text x="438.1" y="694.8">6 Feb 2013</text><text x="498.5" y="694.8">18 Feb 2013</text><text x="559" y="694.8">28 Feb 2013</text><text x="619.4" y="694.8">12 Mar 2013</text><text x="679.8" y="694.8">22 Mar 2013</text></g>
<polygon points="733.5,0 742.5,0 738,4" fill="#b0b0b0"/></svg>
</body></html>
